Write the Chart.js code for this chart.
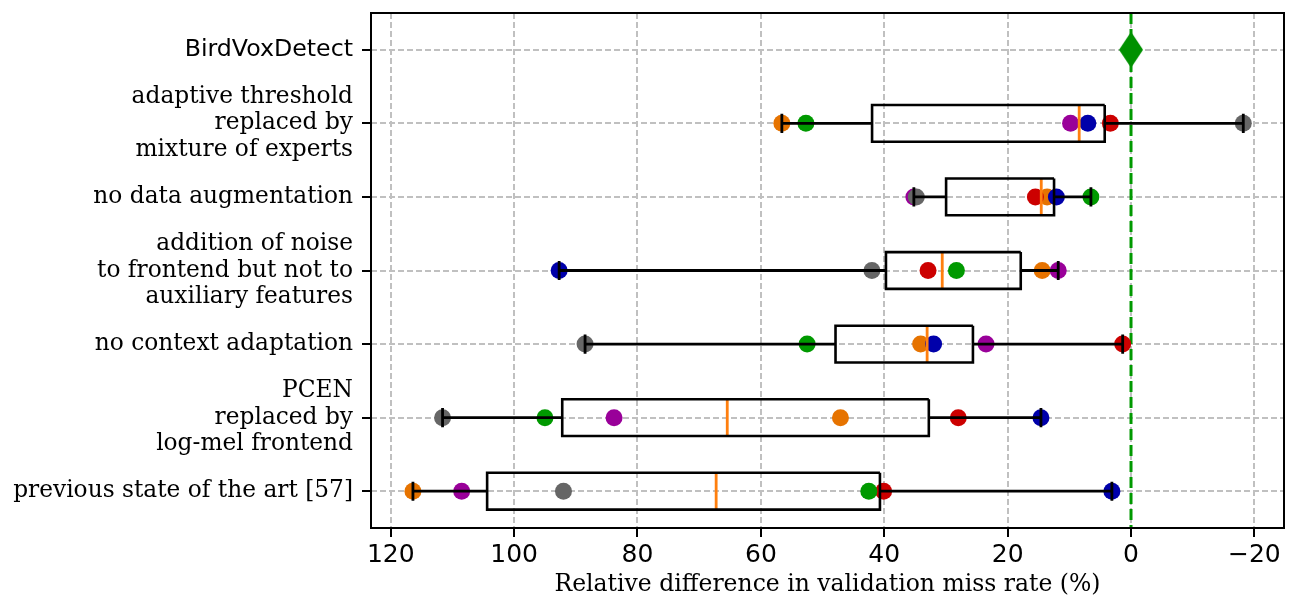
<!DOCTYPE html>
<html>
<head>
<meta charset="utf-8">
<script src="https://cdn.jsdelivr.net/npm/chart.js@4.4.1/dist/chart.umd.min.js"></script>
<style>
	html, body { margin: 0; padding: 0; background: #fff; }
	#wrap { width: 1298px; height: 599px; }
</style>
</head>
<body>
<div id="wrap"><canvas id="ablationChart"></canvas></div>
<script>
//#region data
const categories = [
	'BirdVoxDetect',
	['adaptive threshold', 'replaced by', 'mixture of experts'],
	'no data augmentation',
	['addition of noise', 'to frontend but not to', 'auxiliary features'],
	'no context adaptation',
	['PCEN', 'replaced by', 'log-mel frontend'],
	'previous state of the art [57]'
];

//one value per ablation row (rows 2..7)
const orangeValues = [56.6, 13.6, 14.4, 34.1, 47.1, 116.4];
const redValues = [3.35, 15.5, 32.9, 1.35, 28.0, 40.1];
const greenValues = [52.7, 6.5, 28.3, 52.5, 95.0, 42.5];
const purpleValues = [9.8, 35.2, 11.8, 23.5, 83.8, 108.5];
const blueValues = [7.0, 12.1, 92.7, 32.0, 14.6, 3.1];
const grayValues = [-18.2, 34.8, 42.0, 88.5, 111.6, 92.0];

const referenceValue = 0; //BirdVoxDetect itself
const xTicks = [120, 100, 80, 60, 40, 20, 0, -20];
//#endregion

const seriesList = [
	{ values: grayValues, color: 'rgb(102,102,102)' },
	{ values: blueValues, color: 'rgb(0,0,170)' },
	{ values: purpleValues, color: 'rgb(153,0,153)' },
	{ values: greenValues, color: 'rgb(0,153,0)' },
	{ values: redValues, color: 'rgb(204,0,0)' },
	{ values: orangeValues, color: 'rgb(230,115,0)' }
];

//linear interpolated percentile, same as numpy default
function percentile(sorted, p) {
	const pos = (sorted.length - 1) * p;
	const lo = Math.floor(pos);
	const hi = Math.ceil(pos);
	return sorted[lo] + (sorted[hi] - sorted[lo]) * (pos - lo);
}

const datasets = [];
const boxHalf = 0.25;
const capHalf = 0.13;

function lineSet(points, color, width, order) {
	return {
		data: points,
		showLine: true,
		borderColor: color,
		borderWidth: width,
		pointRadius: 0,
		fill: false,
		order: order
	};
}

//box, whiskers, caps and median for each ablation row
for (let r = 0; r < orangeValues.length; r++) {
	const y = r + 2;
	const vals = seriesList.map((s) => s.values[r]).sort((a, b) => a - b);
	const q1 = percentile(vals, 0.25);
	const med = percentile(vals, 0.5);
	const q3 = percentile(vals, 0.75);
	const lo = vals[0];
	const hi = vals[vals.length - 1];
	datasets.push(lineSet([
		{ x: q1, y: y - boxHalf }, { x: q3, y: y - boxHalf },
		{ x: q3, y: y + boxHalf }, { x: q1, y: y + boxHalf },
		{ x: q1, y: y - boxHalf }
	], '#000', 2.6, 0));
	datasets.push(lineSet([{ x: lo, y: y }, { x: q1, y: y }], '#000', 2.8, 0));
	datasets.push(lineSet([{ x: q3, y: y }, { x: hi, y: y }], '#000', 2.8, 0));
	datasets.push(lineSet([{ x: lo, y: y - capHalf }, { x: lo, y: y + capHalf }], '#000', 2.8, 0));
	datasets.push(lineSet([{ x: hi, y: y - capHalf }, { x: hi, y: y + capHalf }], '#000', 2.8, 0));
	datasets.push(lineSet([{ x: med, y: y - boxHalf }, { x: med, y: y + boxHalf }], '#ff7f0e', 2.8, 0));
}

//coloured dots, gray drawn last (on top)
seriesList.forEach((s, i) => {
	datasets.push({
		data: s.values.map((v, r) => ({ x: v, y: r + 2 })),
		pointRadius: 8.5,
		pointHoverRadius: 8.5,
		pointBackgroundColor: s.color,
		pointBorderWidth: 0,
		showLine: false,
		order: i + 1
	});
});

//thin diamond marker for the reference
const diamond = document.createElement('canvas');
diamond.width = 24;
diamond.height = 36;
const dctx = diamond.getContext('2d');
dctx.fillStyle = 'rgb(0,145,0)';
dctx.beginPath();
dctx.moveTo(12, 0);
dctx.lineTo(24, 18);
dctx.lineTo(12, 36);
dctx.lineTo(0, 18);
dctx.closePath();
dctx.fill();

datasets.push({
	data: [{ x: referenceValue, y: 1 }],
	pointStyle: diamond,
	pointRadius: 12,
	showLine: false,
	order: -1
});

//dashed reference line
const refLine = lineSet([{ x: referenceValue, y: 0.5 }, { x: referenceValue, y: 7.5 }], 'rgb(0,153,0)', 3, 20);
refLine.borderDash = [11, 5];
datasets.push(refLine);

//matplotlib style frame around the plot
const framePlugin = {
	id: 'frame',
	afterDraw(chart) {
		const { ctx, chartArea: a } = chart;
		ctx.save();
		ctx.strokeStyle = '#000';
		ctx.lineWidth = 2;
		ctx.strokeRect(a.left, a.top, a.right - a.left, a.bottom - a.top);
		ctx.restore();
	}
};

const gridOpts = {
	color: '#c0c0c0',
	lineWidth: 2,
	tickColor: '#000',
	tickLength: 9,
	tickWidth: 2,
	tickBorderDash: []
};

new Chart(document.getElementById('ablationChart'), {
	type: 'scatter',
	data: { datasets: datasets },
	plugins: [framePlugin],
	options: {
		responsive: true,
		maintainAspectRatio: false,
		animation: false,
		layout: { padding: { left: 0, right: 14, top: 10, bottom: 0 } },
		plugins: {
			legend: { display: false },
			tooltip: { enabled: false }
		},
		scales: {
			x: {
				type: 'linear',
				min: -24.8,
				max: 123.2,
				reverse: true,
				afterBuildTicks: (s) => { s.ticks = xTicks.map((v) => ({ value: v })); },
				afterFit: (s) => {
					s.height = 71;
					s.paddingLeft = 0;
					s.paddingRight = 0;
				},
				ticks: {
					callback: (v) => (v < 0 ? '\u2212' + Math.abs(v) : String(v)),
					font: { family: 'DejaVu Sans', size: 25 },
					color: '#000',
					maxRotation: 0,
					padding: 3
				},
				title: {
					display: true,
					text: 'Relative difference in validation miss rate (%)',
					font: { family: 'DejaVu Serif', size: 23.5 },
					color: '#000',
					padding: { top: 0, bottom: 0 }
				},
				grid: gridOpts,
				border: { display: false, dash: [6, 3] }
			},
			y: {
				type: 'linear',
				min: 0.5,
				max: 7.5,
				reverse: true,
				afterBuildTicks: (s) => { s.ticks = categories.map((c, i) => ({ value: i + 1 })); },
				afterFit: (s) => {
					s.width = 371;
					s.paddingTop = 0;
					s.paddingBottom = 0;
				},
				ticks: {
					callback: (v) => categories[v - 1],
					font: (ctx) => (ctx.index === 0
						? { family: 'DejaVu Sans', size: 23.7, lineHeight: 1.13 }
						: { family: 'DejaVu Serif', size: 23.3, lineHeight: 1.15 }),
					color: '#000',
					padding: 9
				},
				grid: gridOpts,
				border: { display: false, dash: [6, 3] }
			}
		}
	}
});
</script>
</body>
</html>
